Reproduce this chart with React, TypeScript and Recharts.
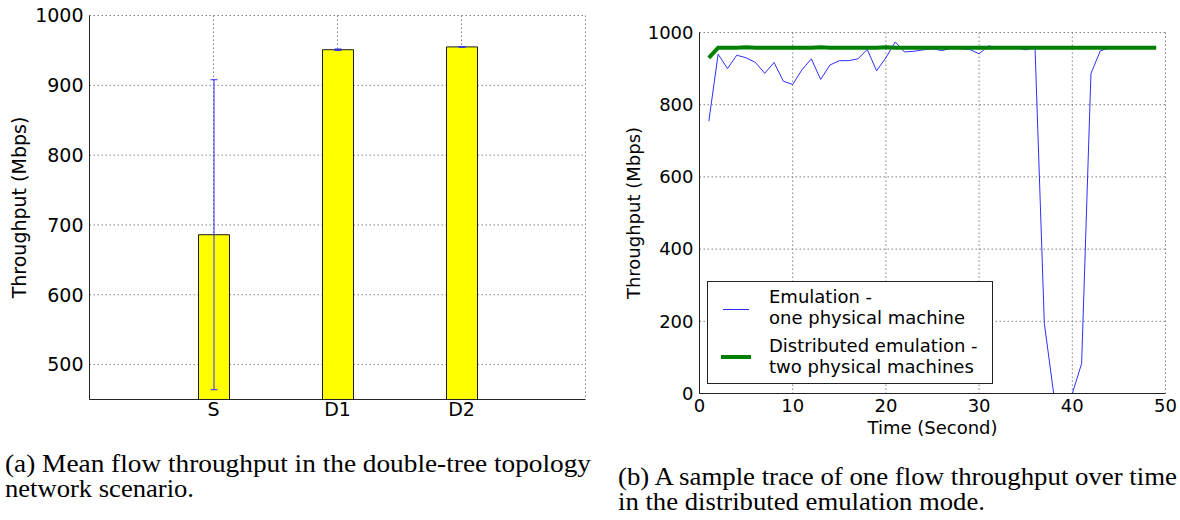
import {
  Bar,
  BarChart,
  CartesianGrid,
  ErrorBar,
  Legend,
  Line,
  LineChart,
  XAxis,
  YAxis,
} from "recharts";

// (a) mean flow throughput
const flowLabels = ["S", "D1", "D2"];
const meanThroughput = [686, 951, 955];
const throughputErr = [222, 1, 0.5];
const barTicks = [500, 600, 700, 800, 900, 1000];

// (b) sample trace
const timeSeconds = [
  1, 2, 3, 4, 5, 6, 7, 8, 9, 10, 11, 12, 13, 14, 15, 16, 17, 18, 19, 20, 21, 22, 23, 24, 25,
  26, 27, 28, 29, 30, 31, 32, 33, 34, 35, 36, 37, 38, 39, 40, 41, 42, 43, 44, 45, 46, 47, 48, 49,
];
const oneMachine = [
  754, 940, 900, 937, 930, 917, 887, 917, 865, 856, 897, 927, 870, 910, 922, 922, 927, 953, 894,
  930, 974, 946, 948, 952, 955, 950, 956, 955, 953, 941, 963, 958, 958, 958, 952, 958, 194, 0, 0,
  0, 83, 886, 949, 958, 958, 958, 958, 958, 958,
];
const twoMachines = [
  930, 958, 958, 958, 959, 958, 958, 958, 958, 958, 958, 958, 959, 958, 958, 958, 958, 958, 958,
  959, 958, 958, 958, 958, 958, 958, 958, 958, 958, 958, 958, 958, 958, 958, 958, 958, 958, 958,
  958, 958, 958, 958, 958, 958, 958, 958, 958, 958, 958,
];
const timeTicks = [0, 10, 20, 30, 40, 50];
const traceTicks = [0, 200, 400, 600, 800, 1000];

const legendOrder = ["one", "two"];
const seriesNames: Record<string, string[]> = {
  one: ["Emulation -", "one physical machine"],
  two: ["Distributed emulation -", "two physical machines"],
};

const FONT = "'DejaVu Sans', sans-serif";
const AXIS = "#222";
const GRID_STROKE = "#808080";
const BLUE = "#2f2fff";
const GREEN = "#008000";

const barData = flowLabels.map((name, i) => ({
  name,
  mean: meanThroughput[i],
  err: throughputErr[i],
}));

const traceData = timeSeconds.map((t, i) => ({
  t,
  one: oneMachine[i],
  two: twoMachines[i],
}));

function SideLabel({ viewBox, text, bx, size }: any) {
  const cy = viewBox.y + viewBox.height / 2;
  return (
    <text
      x={bx}
      y={cy}
      transform={`rotate(-90 ${bx} ${cy})`}
      textAnchor="middle"
      fontSize={size}
      fill="#000"
    >
      {text}
    </text>
  );
}

function BottomLabel({ viewBox, text, dy, size }: any) {
  return (
    <text
      x={viewBox.x + viewBox.width / 2}
      y={viewBox.y + dy}
      textAnchor="middle"
      fontSize={size}
      fill="#000"
    >
      {text}
    </text>
  );
}

function LegendBox({ payload }: any) {
  const items = [...(payload || [])].sort(
    (a: any, b: any) => legendOrder.indexOf(a.dataKey) - legendOrder.indexOf(b.dataKey)
  );
  return (
    <div
      style={{
        position: "relative",
        width: 286,
        height: 103,
        boxSizing: "border-box",
        border: `1px solid ${AXIS}`,
        background: "#fff",
        fontFamily: FONT,
        fontSize: 18,
        color: "#000",
      }}
    >
      {items.map((entry: any, i: number) => {
        const lines = seriesNames[entry.dataKey] || [entry.value];
        const thick = entry.dataKey === "two";
        return (
          <div key={i} style={{ position: "absolute", left: 0, top: 4 + i * 49, width: 284 }}>
            <svg width={50} height={42} style={{ position: "absolute", left: 0, top: 0 }}>
              <line
                x1={15}
                x2={41}
                y1={thick ? 22 : 23.5}
                y2={thick ? 22 : 23.5}
                stroke={entry.color}
                strokeWidth={thick ? 4 : 1}
                strokeLinecap={thick ? "square" : "butt"}
              />
            </svg>
            <div
              style={{
                position: "absolute",
                left: 61,
                top: 0,
                lineHeight: "21px",
                whiteSpace: "nowrap",
              }}
            >
              {lines.map((l: string) => (
                <div key={l}>{l}</div>
              ))}
            </div>
          </div>
        );
      })}
    </div>
  );
}

export default function App() {
  return (
    <div
      style={{
        position: "absolute",
        left: 0,
        top: 0,
        width: 1180,
        height: 520,
        background: "#fff",
        fontFamily: FONT,
        overflow: "hidden",
      }}
    >
      <div style={{ position: "absolute", left: 0, top: 0 }}>
        <BarChart
          width={600}
          height={420}
          data={barData}
          margin={{ top: 15.5, right: 14.5, bottom: 0, left: 0.5 }}
        >
          <CartesianGrid stroke={GRID_STROKE} strokeDasharray="1.5 2.5" />
          <XAxis
            dataKey="name"
            padding={{ left: 62, right: 62 }}
            height={20.5}
            interval={0}
            tickLine={false}
            tickSize={0}
            tickMargin={3}
            axisLine={{ stroke: AXIS }}
            tick={{ fill: "#000", fontSize: 19 }}
          />
          <XAxis
            xAxisId="top"
            dataKey="name"
            orientation="top"
            height={0}
            tick={false}
            tickLine={false}
            axisLine={{ stroke: AXIS }}
          />
          <YAxis
            width={89}
            domain={[450, 1000]}
            ticks={barTicks}
            allowDataOverflow
            interval={0}
            tickLine={false}
            tickSize={0}
            tickMargin={6}
            axisLine={{ stroke: AXIS }}
            tick={{ fill: "#000", fontSize: 19 }}
            label={{
              content: (p: any) => (
                <SideLabel {...p} text="Throughput (Mbps)" bx={26} size={19} />
              ),
            }}
          />
          <YAxis
            yAxisId="right"
            orientation="right"
            width={0}
            tick={false}
            tickLine={false}
            axisLine={{ stroke: AXIS }}
          />
          <Bar
            dataKey="mean"
            fill="#ffff00"
            stroke="#1a1a1a"
            strokeWidth={1}
            barSize={31}
            isAnimationActive={false}
          >
            <ErrorBar dataKey="err" width={3.5} stroke={BLUE} strokeWidth={1} direction="y" />
          </Bar>
        </BarChart>
      </div>

      <div style={{ position: "absolute", left: 600, top: 0 }}>
        <LineChart
          width={580}
          height={450}
          data={traceData}
          margin={{ top: 32.5, right: 14.5, bottom: 0, left: 0 }}
        >
          <CartesianGrid stroke={GRID_STROKE} strokeDasharray="1.5 2.5" />
          <XAxis
            type="number"
            dataKey="t"
            domain={[0, 50]}
            ticks={timeTicks}
            allowDataOverflow
            interval={0}
            height={56.5}
            tickLine={false}
            tickSize={0}
            tickMargin={6}
            axisLine={{ stroke: AXIS }}
            tick={{ fill: "#000", fontSize: 18 }}
            label={{
              content: (p: any) => (
                <BottomLabel {...p} text="Time (Second)" dy={40.5} size={18} />
              ),
            }}
          />
          <XAxis
            xAxisId="top"
            type="number"
            orientation="top"
            domain={[0, 50]}
            allowDataOverflow
            height={0}
            tick={false}
            tickLine={false}
            axisLine={{ stroke: AXIS }}
          />
          <YAxis
            domain={[0, 1000]}
            ticks={traceTicks}
            allowDataOverflow
            interval={0}
            width={99.5}
            tickLine={false}
            tickSize={0}
            tickMargin={6}
            axisLine={{ stroke: AXIS }}
            tick={{ fill: "#000", fontSize: 18 }}
            label={{
              content: (p: any) => (
                <SideLabel {...p} text="Throughput (Mbps)" bx={40} size={18} />
              ),
            }}
          />
          <YAxis
            yAxisId="right"
            orientation="right"
            width={0}
            tick={false}
            tickLine={false}
            axisLine={{ stroke: AXIS }}
          />
          <Legend
            layout="horizontal"
            verticalAlign="middle"
            align="center"
            width={286}
            wrapperStyle={{ left: 107, top: 281, width: 286, height: 103 }}
            content={(p: any) => <LegendBox payload={p.payload} />}
          />
          <Line
            dataKey="one"
            name="Emulation - one physical machine"
            stroke={BLUE}
            strokeWidth={1}
            dot={false}
            activeDot={false}
            isAnimationActive={false}
          />
          <Line
            dataKey="two"
            name="Distributed emulation - two physical machines"
            stroke={GREEN}
            strokeWidth={4}
            dot={false}
            activeDot={false}
            isAnimationActive={false}
          />
        </LineChart>
      </div>

      <svg
        width={1180}
        height={80}
        style={{ position: "absolute", left: 0, top: 440 }}
        fontFamily="'Liberation Serif', serif"
        fontSize={25}
        fill="#000"
      >
        <text x={5} y={32} textLength={586} lengthAdjust="spacingAndGlyphs">
          (a) Mean flow throughput in the double-tree topology
        </text>
        <text x={5} y={57} textLength={189} lengthAdjust="spacingAndGlyphs">
          network scenario.
        </text>
        <text x={618} y={45} textLength={559} lengthAdjust="spacingAndGlyphs">
          (b) A sample trace of one flow throughput over time
        </text>
        <text x={618} y={70} textLength={367} lengthAdjust="spacingAndGlyphs">
          in the distributed emulation mode.
        </text>
      </svg>
    </div>
  );
}
